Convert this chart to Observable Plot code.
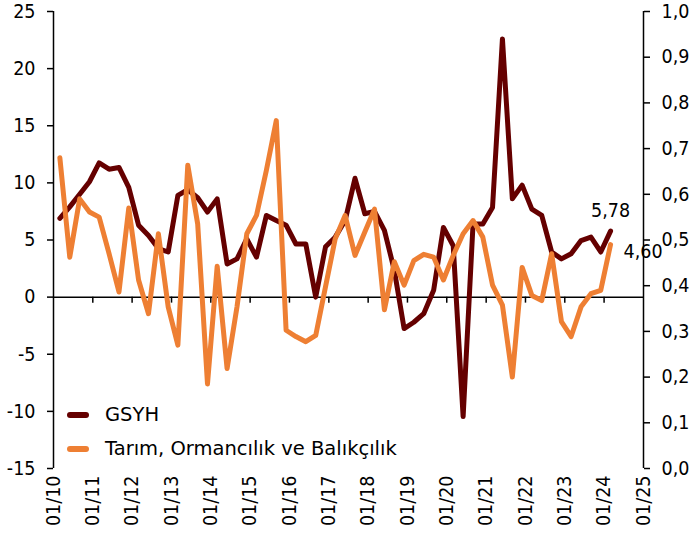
<!DOCTYPE html>
<html><head><meta charset="utf-8">
<script src="https://cdn.jsdelivr.net/npm/d3@7"></script>
<script src="https://cdn.jsdelivr.net/npm/@observablehq/plot@0.6"></script>
<style>
body{margin:0;background:#fff;}
#wrap{position:relative;width:692px;height:546px;font-family:"DejaVu Sans Condensed","DejaVu Sans",sans-serif;}
.legend{position:absolute;left:64px;top:398px;font-family:"DejaVu Sans",sans-serif;font-size:19.5px;color:#000;line-height:1}
.legend .row{display:flex;align-items:center;height:34px}
.legend .sw{width:22px;height:6px;border-radius:3px;margin:0 16px 0 3px}
</style></head>
<body><div id="wrap"></div>
<script>
const periods = [
"2010-03","2010-06","2010-09","2010-12","2011-03","2011-06","2011-09","2011-12",
"2012-03","2012-06","2012-09","2012-12","2013-03","2013-06","2013-09","2013-12",
"2014-03","2014-06","2014-09","2014-12","2015-03","2015-06","2015-09","2015-12",
"2016-03","2016-06","2016-09","2016-12","2017-03","2017-06","2017-09","2017-12",
"2018-03","2018-06","2018-09","2018-12","2019-03","2019-06","2019-09","2019-12",
"2020-03","2020-06","2020-09","2020-12","2021-03","2021-06","2021-09","2021-12",
"2022-03","2022-06","2022-09","2022-12","2023-03","2023-06","2023-09","2023-12",
"2024-03"];
const gsyh = [
6.9,7.9,9.0,10.1,11.75,11.2,11.35,9.6,
6.3,5.4,4.25,3.95,8.9,9.4,8.7,7.45,
8.6,2.9,3.35,5.1,3.5,7.15,6.7,6.3,
4.65,4.65,0.0,4.4,5.25,6.7,10.4,7.3,
7.5,5.85,2.35,-2.75,-2.2,-1.45,0.6,6.1,
4.5,-10.45,6.4,6.4,7.85,22.6,8.6,9.8,
7.7,7.15,3.95,3.35,3.8,4.95,5.25,3.95,
5.78];
const tarim = [
12.2,3.5,8.6,7.45,7.0,3.8,0.45,7.8,
1.5,-1.45,5.55,-0.85,-4.2,11.55,6.4,-7.6,
2.7,-6.25,-0.85,5.55,7.15,11.1,15.45,-2.9,
-3.45,-3.9,-3.35,0.9,5.1,7.15,3.65,5.7,
7.7,-1.1,3.1,1.05,3.2,3.75,3.5,1.5,
3.65,5.55,6.7,5.25,1.05,-0.7,-7.0,2.6,
0.15,-0.3,3.8,-2.15,-3.45,-0.85,0.3,0.6,
4.6];
const seriesNames = ["GSYH","Tarım, Ormancılık ve Balıkçılık"];
const seriesColors = ["#650000","#EE7F33"];
const yearTicks = ["2010","2011","2012","2013","2014","2015","2016","2017","2018","2019","2020","2021","2022","2023","2024","2025"];
const leftTicks = [-15,-10,-5,0,5,10,15,20,25];
const rightTicks = [0,0.1,0.2,0.3,0.4,0.5,0.6,0.7,0.8,0.9,1.0];

const parseM = d3.utcParse("%Y-%m");
const parseY = d3.utcParse("%Y");
const years = yearTicks.map(parseY);
const rows = [];
seriesNames.forEach((s, si) => {
  const vals = si === 0 ? gsyh : tarim;
  periods.forEach((p, i) => rows.push({date: parseM(p), value: vals[i], series: s}));
});
const lastG = rows.filter(d => d.series === seriesNames[0]).at(-1);
const lastT = rows.filter(d => d.series === seriesNames[1]).at(-1);
const yMin = leftTicks[0], yMax = leftTicks.at(-1);
const rToLeft = r => yMin + (yMax - yMin) * r;
const fmtComma = v => v.toFixed(2).replace(".", ",");

const chart = Plot.plot({
  width: 692, height: 546,
  marginLeft: 53, marginRight: 49, marginTop: 11, marginBottom: 78,
  style: {fontFamily: '"DejaVu Sans Condensed","DejaVu Sans",sans-serif', fontSize: "19.5px", color: "#000", background: "#fff"},
  x: {type: "utc", domain: [years[0], years.at(-1)], label: null},
  y: {domain: [yMin, yMax], label: null},
  color: {domain: seriesNames, range: seriesColors},
  marks: [
    Plot.ruleX([years[0], years.at(-1)], {stroke: "#000", strokeWidth: 1.5}),
    Plot.ruleY([0], {stroke: "#000", strokeWidth: 1.5}),
    Plot.ruleX(years.slice(1, -1), {x: d => d, y1: 0, y2: 0, insetBottom: -6, stroke: "#000", strokeWidth: 1.5}),
    Plot.axisY(leftTicks, {anchor: "left", label: null, tickSize: 6, tickPadding: 12, tickFormat: d => String(d), strokeWidth: 1.5}),
    Plot.axisY(rightTicks.map(rToLeft), {anchor: "right", label: null, tickSize: 6, tickPadding: 12,
      tickFormat: v => ((v - yMin) / (yMax - yMin)).toFixed(1).replace(".", ","), strokeWidth: 1.5}),
    Plot.axisX(years, {anchor: "bottom", label: null, tickSize: 0, tickPadding: 7, tickRotate: -90, tickFormat: d3.utcFormat("%m/%y")}),
    Plot.line(rows.filter(d => d.series === seriesNames[0]), {x: "date", y: "value", stroke: "series", strokeWidth: 5, strokeLinejoin: "round", strokeLinecap: "round"}),
    Plot.line(rows.filter(d => d.series === seriesNames[1]), {x: "date", y: "value", stroke: "series", strokeWidth: 5, strokeLinejoin: "round", strokeLinecap: "round"}),
    Plot.text([lastG], {x: "date", y: "value", text: d => fmtComma(d.value), dy: -20, textAnchor: "middle", fill: "#000"}),
    Plot.text([lastT], {x: "date", y: "value", text: d => fmtComma(d.value), dx: 13, dy: 7, textAnchor: "start", fill: "#000"})
  ]
});
const wrap = document.getElementById("wrap");
wrap.appendChild(chart);
const leg = document.createElement("div");
leg.className = "legend";
seriesNames.forEach((s, i) => {
  const r = document.createElement("div"); r.className = "row";
  const sw = document.createElement("span"); sw.className = "sw"; sw.style.background = seriesColors[i];
  const t = document.createElement("span"); t.textContent = s;
  r.appendChild(sw); r.appendChild(t); leg.appendChild(r);
});
wrap.appendChild(leg);
</script>
</body></html>
